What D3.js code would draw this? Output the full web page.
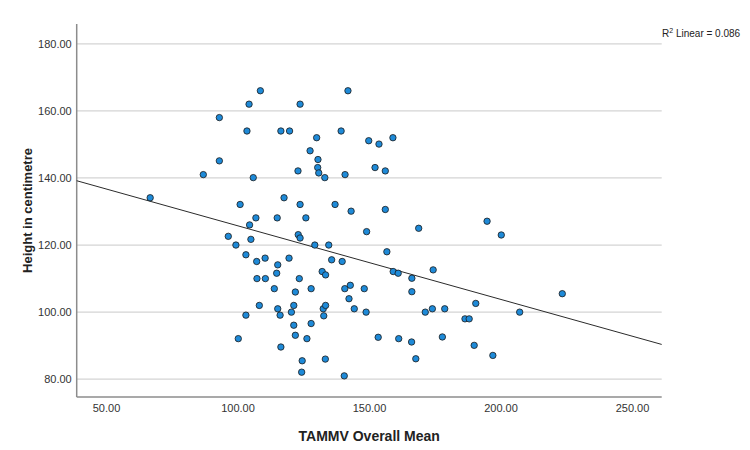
<!DOCTYPE html>
<html>
<head>
<meta charset="utf-8">
<script src="https://cdn.jsdelivr.net/npm/d3@7"></script>
<style>
  html, body { margin: 0; padding: 0; background: #fff; }
  svg { display: block; }
  text { font-family: "Liberation Sans", Arial, sans-serif; }
</style>
</head>
<body>
<svg id="chart" width="750" height="450"></svg>
<script>
// TAMMV Overall Mean (x) values
const tammv = [
  108.7, 142.0, 104.4, 123.8, 93.1, 103.6, 116.5, 119.8, 139.4, 130.1,
  149.9, 153.8, 159.1, 127.6, 130.6, 93.1, 130.5, 123.0, 130.9, 133.2,
  152.3, 156.2, 87.0, 106.0, 140.9, 66.8, 117.7, 101.0, 123.8, 137.1,
  143.2, 156.2, 107.0, 115.1, 126.0, 104.6, 96.5, 105.1, 123.1, 123.8,
  149.1, 168.9, 194.9, 200.3, 99.4, 129.4, 134.7, 103.2, 110.5, 107.3,
  119.6, 115.3, 135.8, 139.8, 156.8, 114.9, 132.2, 133.5, 159.2, 161.1,
  166.3, 174.4, 107.4, 110.6, 123.5, 114.0, 122.0, 128.0, 140.8, 142.9,
  148.2, 166.3, 223.5, 142.4, 190.6, 108.3, 115.3, 121.4, 120.5, 132.6,
  133.5, 144.4, 148.9, 171.4, 174.1, 178.8, 207.3, 103.2, 116.2, 132.8,
  186.5, 188.1, 121.4, 128.0, 122.0, 100.3, 126.4, 153.5, 161.3, 166.2,
  177.9, 190.0, 116.5, 124.6, 133.4, 167.8, 197.1, 124.4, 140.6
];
// Height in centimetre (y) values
const height = [
  166.0, 166.0, 162.0, 162.0, 158.0, 154.0, 154.0, 154.0, 154.0, 152.0,
  151.1, 150.1, 152.0, 148.1, 145.5, 145.1, 143.1, 142.1, 141.5, 140.1,
  143.1, 142.1, 141.0, 140.1, 141.0, 134.1, 134.1, 132.1, 132.1, 132.1,
  130.1, 130.6, 128.1, 128.1, 128.1, 126.0, 122.6, 121.7, 123.1, 122.1,
  124.0, 125.0, 127.1, 123.0, 120.0, 120.0, 120.0, 117.1, 116.1, 115.1,
  116.1, 114.1, 115.6, 115.1, 118.0, 111.6, 112.1, 111.1, 112.1, 111.6,
  110.1, 112.6, 110.0, 110.0, 110.0, 107.0, 106.0, 107.0, 107.0, 108.0,
  107.0, 106.1, 105.5, 104.0, 102.6, 102.0, 101.0, 102.0, 100.0, 101.0,
  102.0, 101.0, 100.0, 100.0, 101.0, 101.0, 100.0, 99.1, 99.1, 98.9,
  98.0, 98.0, 96.1, 96.6, 93.1, 92.1, 92.1, 92.5, 92.1, 91.1,
  92.6, 90.1, 89.6, 85.5, 86.0, 86.1, 87.1, 82.1, 81.0
];
const xTicks = [50, 100, 150, 200, 250];
const yTicks = [80, 100, 120, 140, 160, 180];
// Linear fit
const fitIntercept = [147.7];
const fitSlope = [-0.2194];
const r2Label = ["R", "2", " Linear = 0.086"];

const svg = d3.select("#chart");
const pL = 76.7, pR = 661.7, pT = 24, pB = 397;

const x = d3.scaleLinear().domain([38.86, 261.3]).range([pL, pR]);
const y = d3.scaleLinear().domain([74.7, 185.9]).range([pB, pT]);

// gridlines
svg.append("g").selectAll("line").data(yTicks).join("line")
  .attr("x1", pL).attr("x2", pR)
  .attr("y1", d => y(d)).attr("y2", d => y(d))
  .attr("stroke", "#d4d4d4").attr("stroke-width", 1.2);

// axes
const yAxis = d3.axisLeft(y).tickValues(yTicks).tickSize(0).tickPadding(5)
  .tickFormat(d3.format(".2f"));
const gy = svg.append("g").attr("transform", `translate(${pL},0)`).call(yAxis);
gy.select(".domain").remove();
gy.selectAll("text").attr("font-size", 11).attr("fill", "#333")
  .attr("font-family", "Liberation Sans, Arial, sans-serif");

const xAxis = d3.axisBottom(x).tickValues(xTicks).tickSize(0).tickPadding(7)
  .tickFormat(d3.format(".2f"));
const gx = svg.append("g").attr("transform", `translate(0,${pB})`).call(xAxis);
gx.select(".domain").remove();
gx.selectAll("text").attr("font-size", 11).attr("fill", "#333")
  .attr("font-family", "Liberation Sans, Arial, sans-serif");

// axis lines
svg.append("line").attr("x1", pL).attr("x2", pL).attr("y1", pT).attr("y2", pB)
  .attr("stroke", "#8c8c8c").attr("stroke-width", 1.5);
svg.append("line").attr("x1", pL).attr("x2", pR).attr("y1", pB).attr("y2", pB)
  .attr("stroke", "#8c8c8c").attr("stroke-width", 1.5);

// fit line
const xd = x.domain();
svg.append("line")
  .attr("x1", x(xd[0])).attr("y1", y(fitIntercept[0] + fitSlope[0] * xd[0]))
  .attr("x2", x(xd[1])).attr("y2", y(fitIntercept[0] + fitSlope[0] * xd[1]))
  .attr("stroke", "#2b2b2b").attr("stroke-width", 1);

// points
svg.append("g").selectAll("circle").data(tammv.map((v, i) => [v, height[i]])).join("circle")
  .attr("cx", d => x(d[0])).attr("cy", d => y(d[1])).attr("r", 3.2)
  .attr("fill", "#1e8ad8").attr("stroke", "#1a1a1a").attr("stroke-width", 0.8);

// titles
svg.append("text").attr("x", (pL + pR) / 2).attr("y", 441)
  .attr("text-anchor", "middle").attr("font-size", 14).attr("font-weight", "bold")
  .attr("fill", "#222").text("TAMMV Overall Mean");
svg.append("text")
  .attr("transform", `translate(32,${(pT + pB) / 2}) rotate(-90)`)
  .attr("text-anchor", "middle").attr("font-size", 13).attr("font-weight", "bold")
  .attr("fill", "#222").text("Height in centimetre");

// R2 label
const r2 = svg.append("text").attr("x", 662).attr("y", 37).attr("font-size", 10).attr("fill", "#222");
r2.append("tspan").text(r2Label[0]);
r2.append("tspan").attr("dy", -4).attr("font-size", 7).text(r2Label[1]);
r2.append("tspan").attr("dy", 4).text(r2Label[2]);
</script>
</body>
</html>
